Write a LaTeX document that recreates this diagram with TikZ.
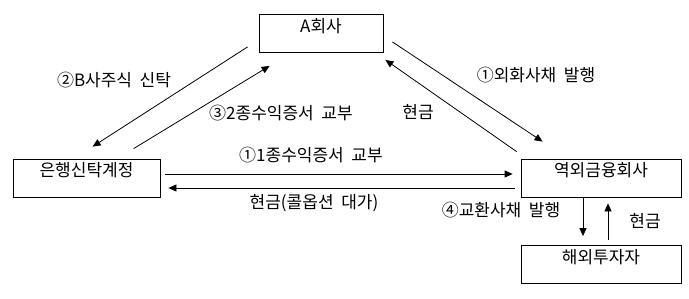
\documentclass[tikz,border=0pt]{standalone}
\usepackage{fontspec}
\newfontfamily\krfont[WordSpace=2]{Noto Sans CJK KR}
\usetikzlibrary{arrows.meta,calc}

\tikzset{
  party/.style={draw, line width=0.8pt, inner xsep=0pt, inner ysep=5pt,
    text height=12.5pt, text depth=15.5pt},
  flow/.style={line width=0.8pt, -{Triangle[length=8pt,width=7pt]}},
  tag/.style={inner sep=0pt}
}

\begin{document}
\begin{tikzpicture}[x=1pt, y=-1pt, font=\krfont\fontsize{17}{20}\selectfont]
        \useasboundingbox (0,0) rectangle (689,298);
        % boxes
        \node[party, minimum width=124pt] (A) at (321,33.5) {A회사};
        \node[party, minimum width=147pt] (trust) at (86.5,178) {은행신탁계정};
        \node[party, minimum width=160pt] (spc) at (601,178) {역외금융회사};
        \node[party, minimum width=160pt] (inv) at (601,264.5) {해외투자자};
        % A <-> trust
        \draw[flow] ($(A.south west)+(-11,-6)$) -- ($(trust.north west)+(80,-12)$);
        \draw[flow] ($(trust.north west)+(121,-10)$) -- ($(A.south west)+(11,13)$);
        \node[tag] (lbshare) at (114,80) {②B사주식 신탁};
        \node[tag] (lbcert2) at (281,113) {③2종수익증서 교부};
        % A <-> spc
        \draw[flow] ($(A.south east)+(9,-11)$) -- ($(spc.north west)+(22,-17)$);
        \draw[flow] ($(spc.north west)+(-4,-7)$) -- ($(A.south east)+(2,7)$);
        \node[tag] (lbbond) at (536,75) {①외화사채 발행};
        \node[tag] (lbcashA) at (418,112) {현금};
        % trust <-> spc
        \draw[flow] ($(trust.east)+(5,-4)$) -- ($(spc.west)+(-8,-4)$);
        \draw[flow] ($(spc.west)+(-6,10)$) -- ($(trust.east)+(8,10)$);
        \node[tag] (lbcert1) at (311,155) {①1종수익증서 교부};
        \node[tag] (lbcall) at (314,203) {현금(콜옵션 대가)};
        % spc <-> investors
        \draw[flow] ($(spc.south)+(-18,1)$) -- ($(inv.north)+(-18,-9)$);
        \draw[flow] ($(inv.north)+(7,-5)$) -- ($(spc.south)+(7,6)$);
        \node[tag] (lbexch) at (501,210) {④교환사채 발행};
        \node[tag] (lbcashI) at (645,221) {현금};
      \end{tikzpicture}
\end{document}
